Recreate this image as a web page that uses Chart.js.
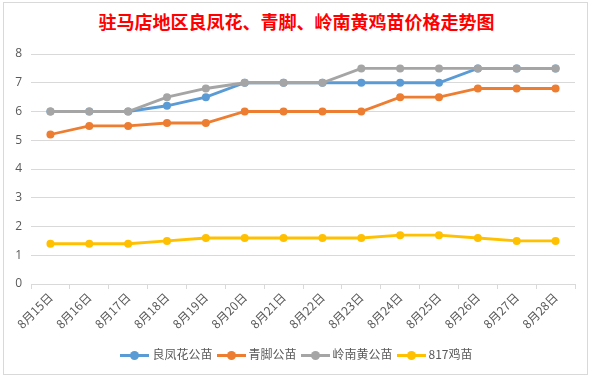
<!DOCTYPE html>
<html>
<head>
<meta charset="utf-8">
<script src="https://cdn.jsdelivr.net/npm/chart.js@4.4.0/dist/chart.umd.min.js"></script>
<style>
  html, body { margin: 0; padding: 0; background: #fff; }
  body { width: 593px; height: 377px; position: relative; overflow: hidden; font-family: "Noto Sans CJK SC", sans-serif; }
  #frame { position: absolute; left: 3px; top: 2px; width: 583px; height: 371px; border: 1px solid #d9d9d9; }
  #title { position: absolute; left: 0; top: 8px; width: 593px; text-align: center; color: #ff0000;
           font: bold 18px "Noto Sans CJK SC", sans-serif; letter-spacing: 0px; }
  #wrap { position: absolute; left: 0; top: 0; width: 593px; height: 377px; }
  #legend { position: absolute; left: 0; top: 343px; width: 593px; text-align: center; font-size: 12px; color: #595959; white-space: nowrap; }
  .item { display: inline-block; margin: 0 2px; vertical-align: middle; }
  .mark { display: inline-block; width: 29px; height: 3px; position: relative; vertical-align: middle; margin-right: 3px; }
  .mark i { position: absolute; left: 10px; top: -3px; width: 9px; height: 9px; border-radius: 50%; }
</style>
</head>
<body>
<div id="frame"></div>
<div id="title">驻马店地区良凤花、青脚、岭南黄鸡苗价格走势图</div>
<div id="wrap"><canvas id="chart" width="593" height="377"></canvas></div>
<div id="legend"></div>
<script>
// --- data ---
const days = ['8月15日', '8月16日', '8月17日', '8月18日', '8月19日', '8月20日', '8月21日',
              '8月22日', '8月23日', '8月24日', '8月25日', '8月26日', '8月27日', '8月28日'];
const liangfenghua = [6, 6, 6, 6.2, 6.5, 7, 7, 7, 7, 7, 7, 7.5, 7.5, 7.5];
const qingjiao     = [5.2, 5.5, 5.5, 5.6, 5.6, 6, 6, 6, 6, 6.5, 6.5, 6.8, 6.8, 6.8];
const lingnanhuang = [6, 6, 6, 6.5, 6.8, 7, 7, 7, 7.5, 7.5, 7.5, 7.5, 7.5, 7.5];
const chick817     = [1.4, 1.4, 1.4, 1.5, 1.6, 1.6, 1.6, 1.6, 1.6, 1.7, 1.7, 1.6, 1.5, 1.5];
const seriesNames  = ['良凤花公苗', '青脚公苗', '岭南黄公苗', '817鸡苗'];
const seriesColors = ['#5B9BD5', '#ED7D31', '#A5A5A5', '#FFC000'];
const yTicks = [0, 1, 2, 3, 4, 5, 6, 7, 8];

const values = [liangfenghua, qingjiao, lingnanhuang, chick817];

// later series sit on top, like the spreadsheet draws them
const makeSet = (i) => ({
    label: seriesNames[i],
    data: values[i],
    order: values.length - i,
    borderColor: seriesColors[i],
    backgroundColor: seriesColors[i],
    borderWidth: 2.8,
    pointRadius: 4,
    pointHoverRadius: 4,
    pointBorderWidth: 0,
    tension: 0,
    fill: false
});

// legend as plain html so spacing can be matched
const legend = document.getElementById('legend');
seriesNames.forEach((name, i) => {
    const span = document.createElement('span');
    span.className = 'item';
    span.innerHTML = `<span class="mark" style="background:${seriesColors[i]}"><i style="background:${seriesColors[i]}"></i></span>${name}`;
    legend.appendChild(span);
});

new Chart(document.getElementById('chart').getContext('2d'), {
    type: 'line',
    data: {
        labels: days,
        datasets: [makeSet(0), makeSet(1), makeSet(2), makeSet(3)]
    },
    options: {
        responsive: false,
        animation: false,
        layout: { padding: { left: 0, right: 18, top: 54, bottom: 0 } },
        scales: {
            x: {
                offset: true,
                grid: { offset: true, drawOnChartArea: false, tickLength: 5, color: '#d9d9d9' },
                border: { color: '#d9d9d9' },
                ticks: {
                    color: '#595959',
                    font: { family: '"Noto Sans CJK SC", sans-serif', size: 12 },
                    minRotation: 45, maxRotation: 45, padding: 1, autoSkip: false
                },
                afterFit: (scale) => { scale.height = 93; }
            },
            y: {
                min: 0, max: 8,
                afterBuildTicks: (scale) => { scale.ticks = yTicks.map(v => ({ value: v })); },
                grid: { color: '#d9d9d9', drawTicks: false },
                border: { display: false },
                ticks: {
                    color: '#595959',
                    font: { family: '"Open Sans", sans-serif', size: 12 },
                    padding: 9
                },
                afterFit: (scale) => { scale.width = 31; }
            }
        },
        plugins: {
            legend: { display: false },
            title: { display: false },
            tooltip: { enabled: false }
        }
    }
});
</script>
</body>
</html>
